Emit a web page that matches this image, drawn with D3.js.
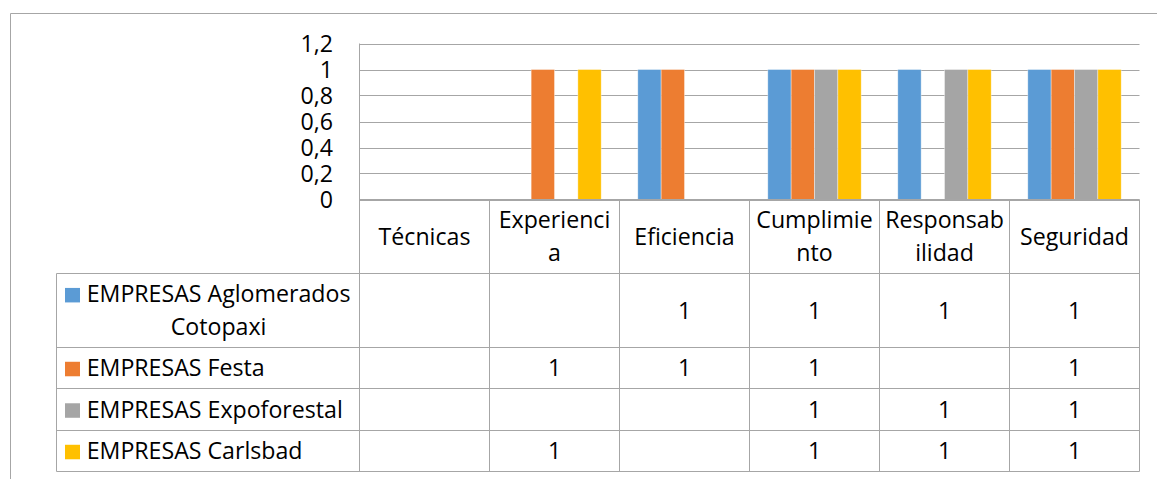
<!DOCTYPE html>
<html>
<head>
<meta charset="utf-8">
<script src="https://cdn.jsdelivr.net/npm/d3@7"></script>
<style>
  html, body { margin: 0; padding: 0; background: #fff; }
  svg { display: block; }
  text { font-family: "Open Sans", Lato, sans-serif; fill: #000; }
</style>
</head>
<body>
<svg id="chart" width="1157" height="479"></svg>
<script>
// ---- data ----
const categories = ["Técnicas", "Experiencia", "Eficiencia", "Cumplimiento", "Responsabilidad", "Seguridad"];
const categoryLines = [["Técnicas"], ["Experienci", "a"], ["Eficiencia"], ["Cumplimie", "nto"], ["Responsab", "ilidad"], ["Seguridad"]];
const seriesNames = ["EMPRESAS Aglomerados Cotopaxi", "EMPRESAS Festa", "EMPRESAS Expoforestal", "EMPRESAS Carlsbad"];
const seriesLines = [["EMPRESAS Aglomerados", "Cotopaxi"], ["EMPRESAS Festa"], ["EMPRESAS Expoforestal"], ["EMPRESAS Carlsbad"]];
const seriesColors = ["#5B9BD5", "#ED7D31", "#A5A5A5", "#FFC000"];
const aglomerados = [null, null, 1, 1, 1, 1];
const festa = [null, 1, 1, 1, null, 1];
const expoforestal = [null, null, null, 1, 1, 1];
const carlsbad = [null, 1, null, 1, 1, 1];
const seriesValues = [aglomerados, festa, expoforestal, carlsbad];
const yTicks = [0, 0.2, 0.4, 0.6, 0.8, 1, 1.2];
const yTickLabels = ["0", "0,2", "0,4", "0,6", "0,8", "1", "1,2"];

// ---- layout ----
const svg = d3.select("#chart");
// fit font size so the longest legend line matches the reference width
const probe = svg.append("text").attr("font-size", 20).text("EMPRESAS Aglomerados");
const FS = 20 * 264 / probe.node().getComputedTextLength();
probe.remove();
const CAP = 0.357 * FS;

const grid = "#A6A6A6";
const plotL = 359.5, plotR = 1139.5, plotT = 43.5, plotB = 199.5;
const headerB = 273.5;
const rowBounds = [273.5, 347.5, 388.5, 430.5, 471.5];
const tableL = 56.5;

const x = d3.scaleBand().domain(categories).range([plotL, plotR]).padding(0);
const xs = d3.scaleBand().domain(d3.range(seriesNames.length))
  .range([18.3, x.bandwidth() - 18.3]).padding(0);
const y = d3.scaleLinear().domain([0, 1.2]).range([plotB, plotT]);

// outer border (top + left)
svg.append("path").attr("d", `M10.5,479 L10.5,13.5 L1157,13.5`)
  .attr("fill", "none").attr("stroke", grid).attr("stroke-width", 1);

// gridlines
svg.append("g").selectAll("line").data(yTicks).join("line")
  .attr("x1", plotL).attr("x2", plotR)
  .attr("y1", d => Math.round(y(d)) + 0.5).attr("y2", d => Math.round(y(d)) + 0.5)
  .attr("stroke", grid).attr("stroke-width", 1);

// y axis labels
svg.append("g").selectAll("text").data(yTicks).join("text")
  .attr("x", 333).attr("y", d => y(d) + CAP)
  .attr("text-anchor", "end").attr("font-size", FS)
  .text((d, i) => yTickLabels[i]);

// bars
const barData = [];
seriesValues.forEach((vals, s) => vals.forEach((v, c) => {
  if (v != null) barData.push({ s, c, v });
}));
svg.append("g").selectAll("rect").data(barData).join("rect")
  .attr("x", d => x(categories[d.c]) + xs(d.s))
  .attr("width", xs.bandwidth())
  .attr("y", d => y(d.v))
  .attr("height", d => y(0) - y(d.v))
  .attr("fill", d => seriesColors[d.s])
  .attr("stroke", "#fff").attr("stroke-opacity", 0.5).attr("stroke-width", 0.75);

// redraw zero line over bars
svg.append("line").attr("x1", plotL).attr("x2", plotR)
  .attr("y1", plotB).attr("y2", plotB).attr("stroke", grid);

// table lines
const tg = svg.append("g").attr("stroke", grid).attr("stroke-width", 1).attr("fill", "none");
const colXs = categories.map(c => x(c)).concat([plotR]);
colXs.forEach((cx, i) => {
  tg.append("line").attr("x1", cx).attr("x2", cx)
    .attr("y1", i === 0 ? plotT : plotB).attr("y2", rowBounds[rowBounds.length - 1]);
});
tg.append("line").attr("x1", tableL).attr("x2", tableL)
  .attr("y1", headerB).attr("y2", rowBounds[rowBounds.length - 1]);
rowBounds.forEach(ry => {
  tg.append("line").attr("x1", tableL).attr("x2", plotR).attr("y1", ry).attr("y2", ry);
});

// header labels
const LH = 32.7;
categories.forEach((c, i) => {
  const lines = categoryLines[i];
  const cy = (plotB + headerB) / 2;
  const start = cy - (lines.length - 1) * LH / 2 + CAP;
  lines.forEach((ln, j) => {
    svg.append("text").attr("x", x(c) + x.bandwidth() / 2).attr("y", start + j * LH)
      .attr("text-anchor", "middle").attr("font-size", FS).text(ln);
  });
});

// legend rows + values
seriesNames.forEach((name, s) => {
  const top = rowBounds[s], bot = rowBounds[s + 1];
  const cy = (top + bot) / 2;
  const lines = seriesLines[s];
  const base0 = cy - (lines.length - 1) * LH / 2 + CAP;
  svg.append("rect").attr("x", 65).attr("y", base0 - 14.5).attr("width", 15).attr("height", 14.5)
    .attr("fill", seriesColors[s]);
  const t0 = svg.append("text").attr("x", 86.7).attr("y", base0).attr("font-size", FS).text(lines[0]);
  const w0 = t0.node().getComputedTextLength();
  for (let j = 1; j < lines.length; j++) {
    svg.append("text").attr("x", 86.7 + w0 / 2).attr("y", base0 + j * LH)
      .attr("text-anchor", "middle").attr("font-size", FS).text(lines[j]);
  }
  seriesValues[s].forEach((v, c) => {
    if (v == null) return;
    svg.append("text").attr("x", x(categories[c]) + x.bandwidth() / 2).attr("y", cy + CAP)
      .attr("text-anchor", "middle").attr("font-size", FS).text(v);
  });
});
</script>
</body>
</html>
